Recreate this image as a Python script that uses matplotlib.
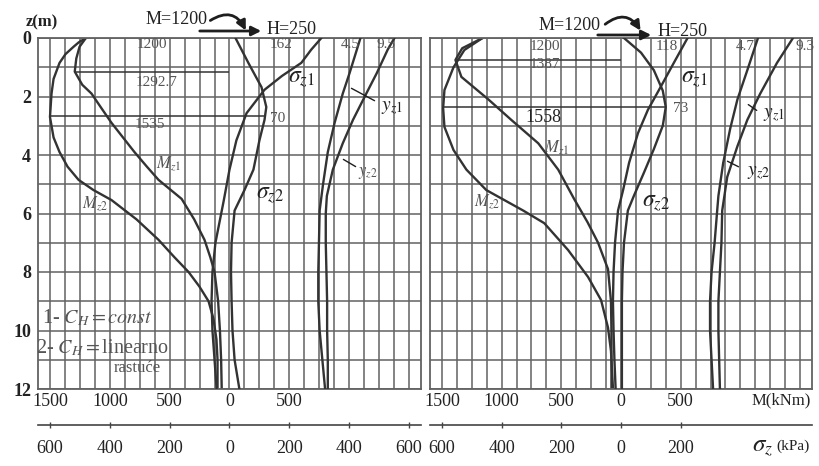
import numpy as np
import matplotlib
import matplotlib.pyplot as plt

matplotlib.rcParams['font.family'] = 'Liberation Serif'
matplotlib.rcParams['mathtext.fontset'] = 'stix'

W, H = 819, 466

# ---------------- left panel: C_H = const (1) and linearly increasing (2)
L_mz1_z = [0, 0.3, 0.7, 1.15, 1.6, 1.9, 2.4, 2.9, 3.4, 3.9, 4.4, 4.85, 5.5, 6.2, 6.9, 7.5, 8, 9, 10, 11, 12]
L_mz1 = [1200, 1253, 1280, 1293, 1230, 1153, 1070, 986, 890, 794, 690, 593, 400, 295, 209, 160, 125, 95, 80, 70, 65]

L_mz2_z = [0, 0.15, 0.3, 0.55, 0.85, 1.4, 1.9, 2.7, 3.4, 3.9, 4.4, 4.85, 5.2, 5.54, 6.2, 6.9, 7.5, 8, 8.5, 9, 9.6, 10.3, 11, 12]
L_mz2 = [1200, 1260, 1303, 1370, 1420, 1470, 1487, 1500, 1470, 1420, 1353, 1261, 1136, 986, 777, 593, 459, 342, 251, 175, 134, 109, 100, 100]

L_s1_z = [0, 0.4, 0.85, 1.3, 1.77, 2.57, 3.5, 4.5, 5.6, 7, 8, 9, 10, 11, 12]
L_s1 = [307, 273, 240, 175, 117, 57, 23, 0, -20, -47, -57, -60, -57, -50, -43]

L_s2_z = [0, 0.85, 1.68, 2.36, 2.8, 3.5, 4.5, 5.2, 5.9, 7, 8, 9, 10, 11, 12]
L_s2 = [20, 63, 107, 123, 117, 100, 80, 50, 17, 7, 5, 7, 10, 17, 33]

L_y1_z = [0, 0.4, 1.2, 1.88, 2.8, 3.6, 4.5, 5.4, 6, 7, 8, 9, 10, 11, 12]
L_y1 = [9.5, 8.5, 6.9, 5.4, 3.4, 1.9, 0.44, -0.44, -0.6, -0.6, -0.5, -0.4, -0.4, -0.3, -0.3]

L_y2_z = [0, 1.2, 1.9, 2.9, 3.9, 5, 5.9, 7, 8, 9, 10, 11, 12]
L_y2 = [4.5, 2.9, 1.9, 0.7, -0.3, -1.0, -1.5, -1.6, -1.7, -1.7, -1.5, -1.1, -0.7]

# ---------------- right panel
R_mz1_z = [0, 0.35, 0.75, 1.33, 2.1, 2.8, 3.6, 4.5, 5.5, 6.3, 7, 7.9, 9, 10, 11, 12]
R_mz1 = [1160, 1330, 1387, 1337, 1111, 919, 693, 526, 393, 280, 192, 109, 84, 80, 80, 80]

R_mz2_z = [0, 0.41, 1.0, 1.78, 2.4, 3.04, 3.83, 4.5, 5.2, 5.9, 6.33, 7.25, 8.17, 8.96, 9.9, 10.7, 12]
R_mz2 = [1160, 1312, 1403, 1479, 1490, 1479, 1403, 1295, 1128, 819, 643, 443, 276, 167, 109, 84, 67]

R_s1_z = [0, 0.85, 1.67, 2.46, 3.25, 4.27, 5.2, 5.9, 7, 8, 9, 10, 11, 12]
R_s1 = [223, 177, 133, 90, 57, 27, 7, -10, -20, -25, -27, -25, -22, -18]

R_s2_z = [0, 0.5, 1.1, 1.8, 2.36, 3.0, 3.8, 4.6, 5.4, 5.9, 7, 8, 9, 10, 11, 12]
R_s2 = [10, 67, 110, 140, 150, 140, 110, 77, 43, 23, 10, 5, 3, 3, 3, 3]

R_y1_z = [0, 0.85, 1.9, 2.8, 3.7, 4.75, 5.9, 7, 8, 9, 10, 11, 12]
R_y1 = [9.3, 7.2, 5.0, 3.3, 2.0, 0.66, 0.0, -0.1, -0.3, -0.5, -0.5, -0.4, -0.3]

R_y2_z = [0, 1.1, 2.1, 3.1, 4.27, 5.4, 5.9, 7, 8, 9, 10, 11, 12]
R_y2 = [4.7, 3.3, 2.0, 1.05, 0.13, -0.5, -0.66, -1.0, -1.4, -1.6, -1.6, -1.4, -1.2]

m_ticks = [1500, 1000, 500, 0, -500]
z_ticks = [0, 2, 4, 6, 8, 10, 12]
s_ticks_left = [-600, -400, -200, 0, 200, 400, 600]
s_ticks_right = [-600, -400, -200, 0, 200]

LINE = '#333333'
GRID = '#626262'
TXT = '#222222'
GREY = '#555555'

fig = plt.figure(figsize=(W / 100, H / 100), dpi=100)


def fx(x):
    return x / W


def fy(y):
    return 1 - y / H


def rect(x0, x1, y0, y1):
    return [fx(x0), fy(y1), (x1 - x0) / W, (y1 - y0) / H]


def panel(r, y_lim, s_ticks, show_z, mz1, mz2, s1, s2, y1, y2, lines):
    ax = fig.add_axes(r)
    ax.set_xlim(1600, -1600)
    ax.set_ylim(12, 0)
    ax.set_xticks(np.arange(-1500, 1501, 125), minor=True)
    ax.set_yticks(np.arange(0, 13, 1), minor=True)
    ax.set_xticks(m_ticks)
    ax.set_xticklabels([str(abs(v)) for v in m_ticks])
    ax.set_yticks(z_ticks)
    if show_z:
        ax.set_yticklabels([str(v) for v in z_ticks], fontsize=14, fontweight='bold')
    else:
        ax.set_yticklabels([])
    ax.tick_params(which='both', length=0, labelsize=13, colors=TXT, pad=3)
    ax.tick_params(axis='y', pad=5)
    ax.grid(which='both', color=GRID, lw=1.1)
    for sp in ax.spines.values():
        sp.set_color(GRID)
        sp.set_linewidth(1.3)
    ax.plot(mz1[1], mz1[0], color=LINE, lw=1.7)
    ax.plot(mz2[1], mz2[0], color=LINE, lw=1.7)
    for z, a, b in lines:
        ax.hlines(z, b, a, color=LINE, lw=1.1)

    # soil pressure, own scale
    axs = fig.add_axes(r)
    axs.patch.set_visible(False)
    axs.set_xlim(-640, 640)
    axs.set_ylim(12, 0)
    for k in ['top', 'left', 'right']:
        axs.spines[k].set_visible(False)
    axs.spines['bottom'].set_position(('axes', -0.103))
    axs.spines['bottom'].set_color('#444444')
    axs.spines['bottom'].set_linewidth(1.2)
    axs.set_yticks([])
    axs.set_xticks(s_ticks)
    axs.set_xticklabels([str(abs(v)) for v in s_ticks])
    axs.tick_params(axis='x', direction='inout', length=5, width=1, colors='#444444',
                    labelcolor=TXT, labelsize=13, pad=8)
    axs.plot(s1[1], s1[0], color=LINE, lw=1.7)
    axs.plot(s2[1], s2[0], color=LINE, lw=1.7)

    # pile displacement, own scale
    axd = fig.add_axes(r)
    axd.patch.set_visible(False)
    axd.set_xlim(*y_lim)
    axd.set_ylim(12, 0)
    axd.axis('off')
    axd.plot(y1[1], y1[0], color=LINE, lw=1.7)
    axd.plot(y2[1], y2[0], color=LINE, lw=1.7)
    return ax


panel(rect(38, 421, 38, 389), (-42.9, 13.4), s_ticks_left, True,
      (L_mz1_z, L_mz1), (L_mz2_z, L_mz2), (L_s1_z, L_s1), (L_s2_z, L_s2),
      (L_y1_z, L_y1), (L_y2_z, L_y2),
      [(1.16, 1293, 0), (2.67, 1500, -300)])
panel(rect(430, 812, 38, 389), (-38.4, 11.8), s_ticks_right, False,
      (R_mz1_z, R_mz1), (R_mz2_z, R_mz2), (R_s1_z, R_s1), (R_s2_z, R_s2),
      (R_y1_z, R_y1), (R_y2_z, R_y2),
      [(0.75, 1387, 0), (2.36, 1490, -376)])


def txt(x, y, s, size=11, color=TXT, **kw):
    fig.text(fx(x), fy(y), s, fontsize=size, color=color, ha='center', va='center', **kw)


def arrow(x0, y0, x1, y1, style='-|>', rad=0.0, lw=2.0):
    fig.patches.append(matplotlib.patches.FancyArrowPatch(
        (fx(x0), fy(y0)), (fx(x1), fy(y1)), transform=fig.transFigure,
        arrowstyle=style, mutation_scale=14, lw=lw, color='#1e1e1e',
        connectionstyle=f'arc3,rad={rad}'))


# top labels and loads
txt(42, 22, 'z(m)', 12, fontweight='bold')
txt(177, 20, 'M=1200', 13)
txt(292, 30, 'H=250', 13)
arrow(208, 22, 247, 33, rad=-0.6)
arrow(197, 31, 264, 31)
txt(570, 25, 'M=1200', 13)
txt(683, 31, 'H=250', 13)
arrow(603, 26, 642, 33, rad=-0.6)
arrow(595, 35, 654, 35)

# left panel annotations
txt(152, 44, '1200', 11, GREY)
txt(281, 44, '162', 11, GREY)
txt(350, 44, '4.5', 11, GREY)
txt(386, 44, '9.5', 11, GREY)
txt(157, 82, '1292.7', 11, GREY)
txt(150, 125, '1535', 11, GREY)
txt(278, 118, '70', 11, GREY)
txt(301, 80, r'$\sigma_{z1}$', 17)
txt(392, 108, r'$y_{z1}$', 14)
txt(169, 164, r'$M_{z1}$', 12, GREY)
txt(368, 173, r'$y_{z2}$', 12, GREY)
txt(270, 195, r'$\sigma_{z2}$', 17)
txt(95, 204, r'$M_{z2}$', 12, GREY)
arrow(349, 87, 377, 102, style='-', lw=1.0)
arrow(341, 158, 358, 168, style='-', lw=1.0)
fig.text(fx(42), fy(318), r'1- $C_H$$=$$const$', fontsize=14.5, color=GREY, va='center')
fig.text(fx(36), fy(348), r'2- $C_H$$=$linearno', fontsize=14.5, color=GREY, va='center')
txt(137, 368, 'rastuće', 12, GREY)

# right panel annotations
txt(545, 47, '1200', 11, GREY)
txt(545, 65, '1387', 11, GREY)
txt(543, 118, '1558', 13, TXT)
txt(667, 47, '118', 11, GREY)
txt(745, 47, '4.7', 11, GREY)
txt(805, 47, '9.3', 11, GREY)
txt(694, 80, r'$\sigma_{z1}$', 17)
txt(681, 108, '73', 11, GREY)
txt(774, 115, r'$y_{z1}$', 14)
txt(557, 148, r'$M_{z1}$', 12, GREY)
txt(758, 173, r'$y_{z2}$', 14)
txt(487, 202, r'$M_{z2}$', 12, GREY)
txt(656, 203, r'$\sigma_{z2}$', 17)
arrow(746, 103, 759, 112, style='-', lw=1.0)
arrow(725, 160, 741, 168, style='-', lw=1.0)

# axis names
txt(781, 400, 'M(kNm)', 12)
fig.text(fx(752), fy(448), r'$\sigma_z$', fontsize=18, color=TXT, va='center')
txt(793, 446, '(kPa)', 11)

fig.savefig('out.png', dpi=100)
